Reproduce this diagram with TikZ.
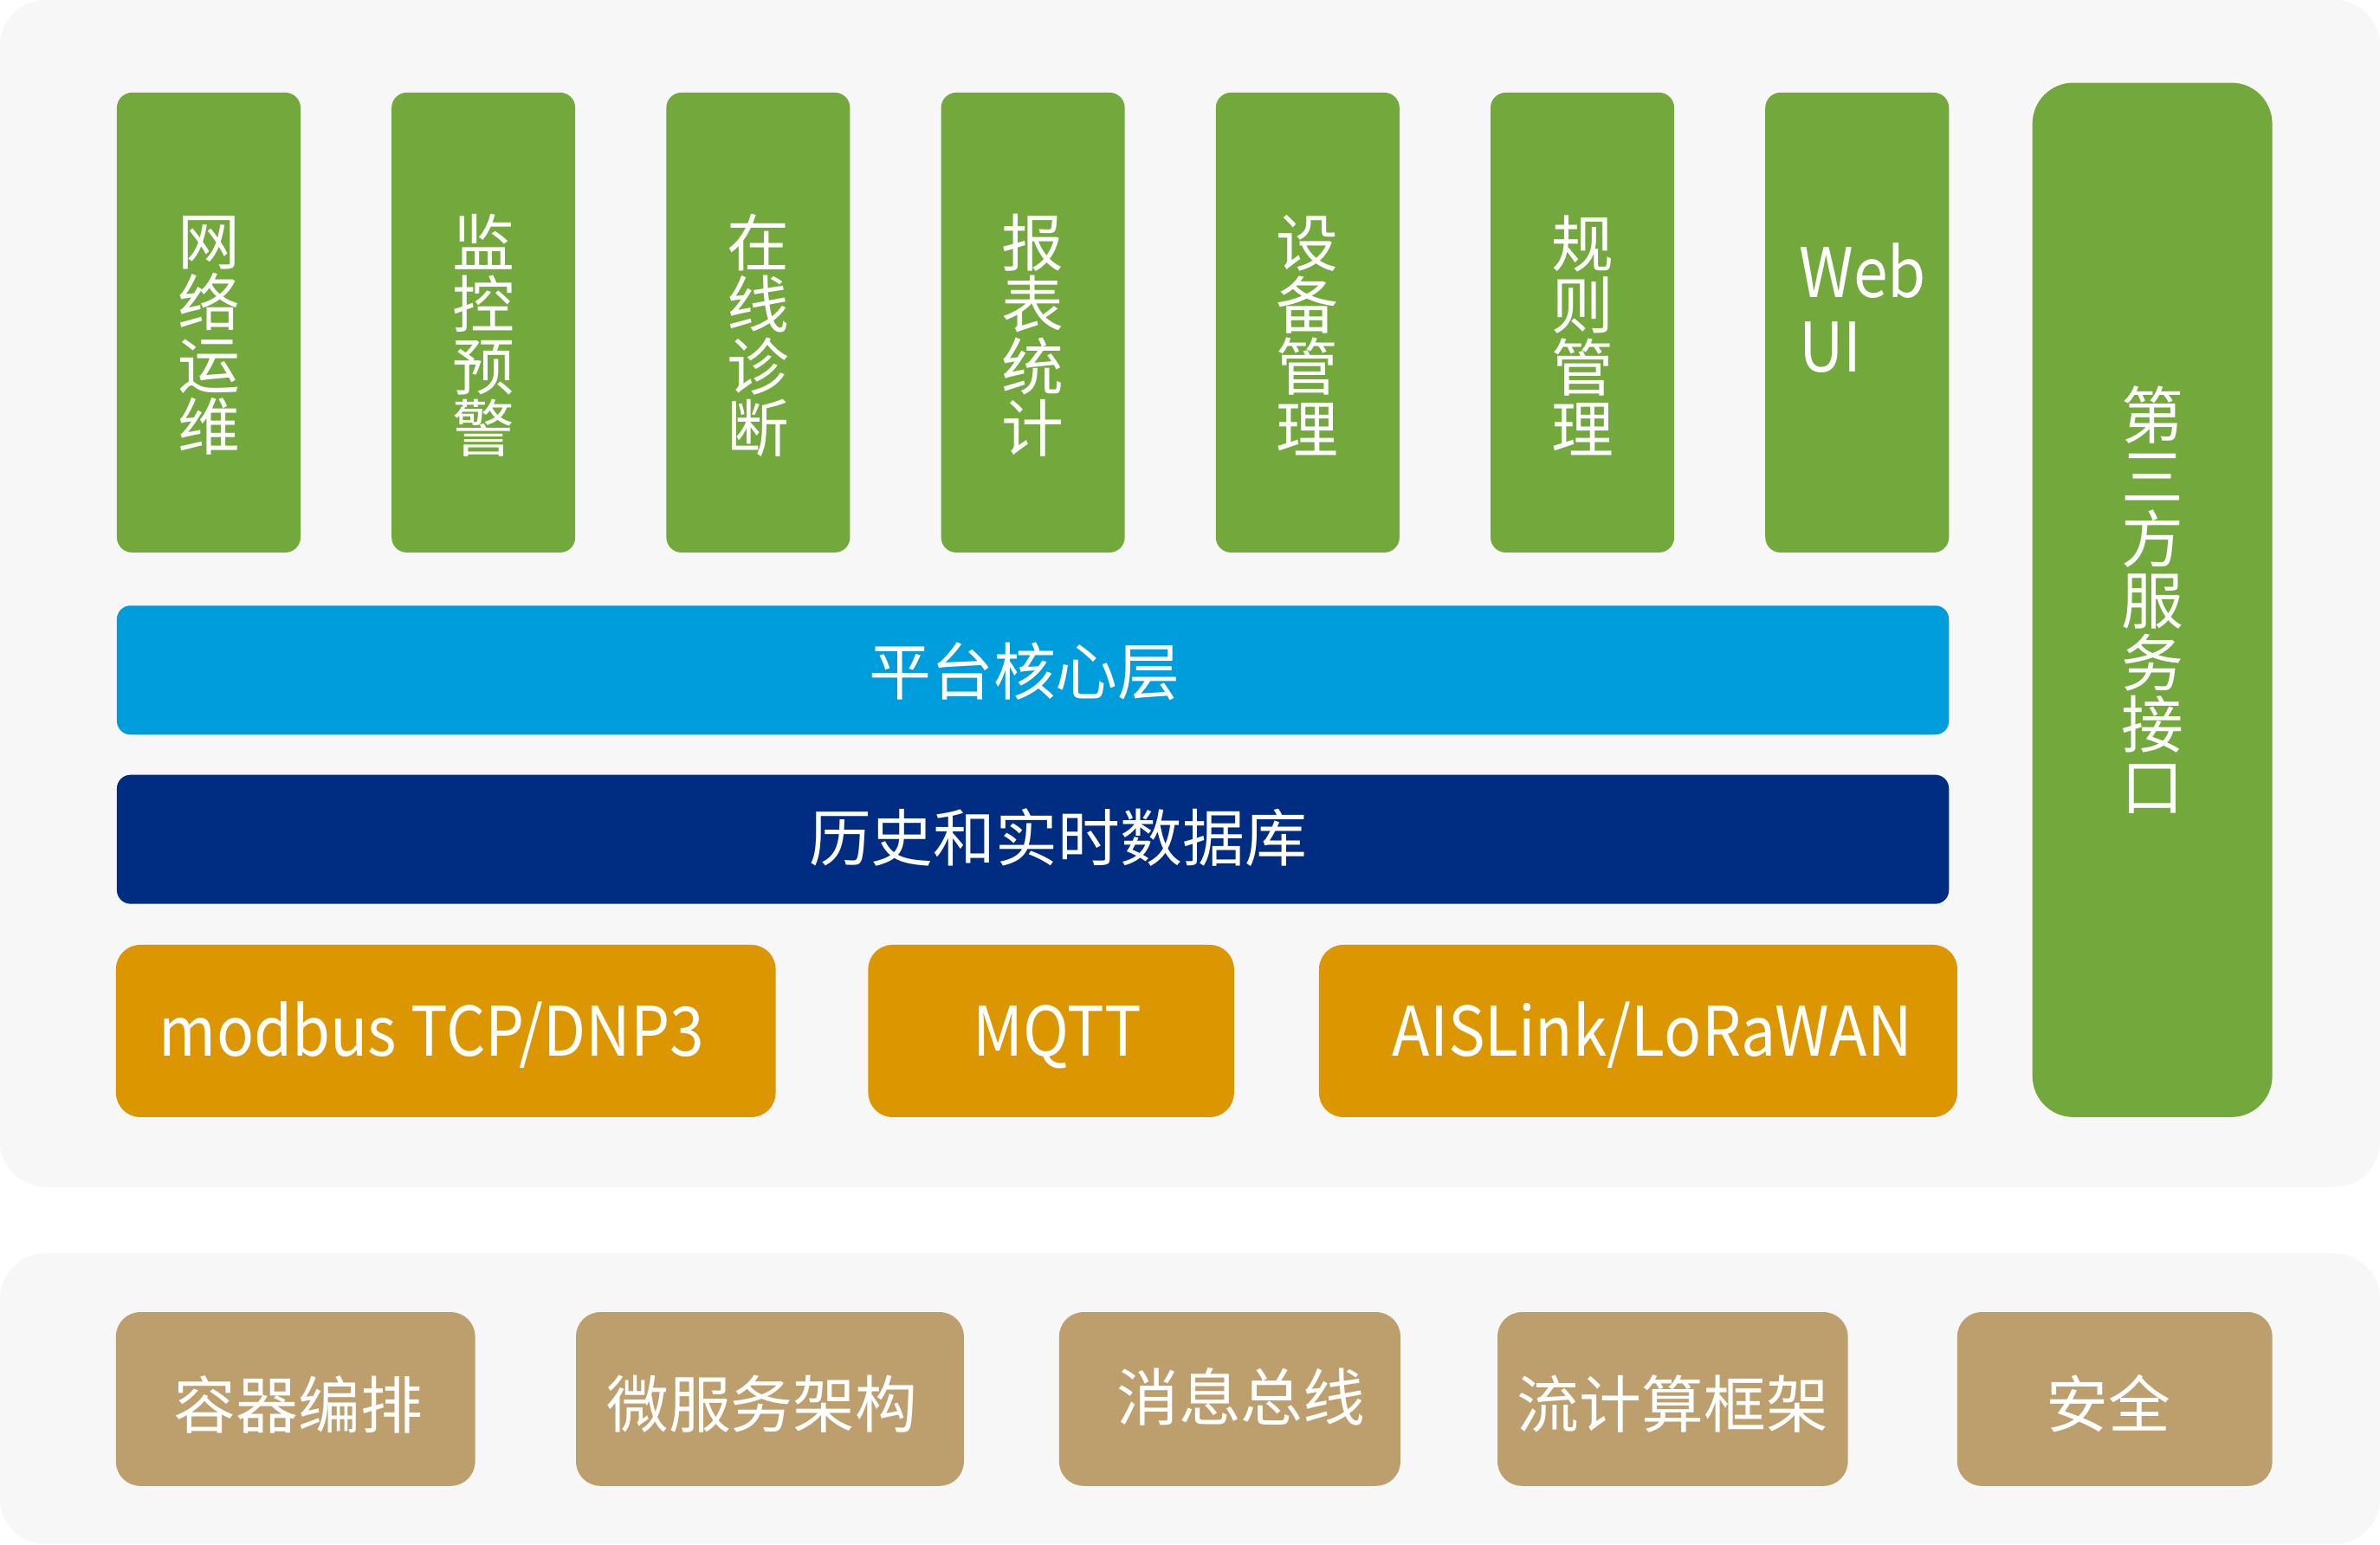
\documentclass[tikz,border=0pt]{standalone}
\usepackage{fontspec}
\setmainfont{Noto Sans CJK SC}
\newfontfamily\latinfont[FakeStretch=0.905]{Noto Sans CJK SC}
\definecolor{panelgray}{HTML}{F7F7F7}
\definecolor{appgreen}{HTML}{72A83C}
\definecolor{coreblue}{HTML}{009DDC}
\definecolor{dbnavy}{HTML}{002D81}
\definecolor{protoorange}{HTML}{DB9600}
\definecolor{infratan}{HTML}{BD9E6D}
\begin{document}
\begin{tikzpicture}[x=0.5pt,y=-0.5pt,
  panel/.style={fill=panelgray,draw=none,rounded corners=15pt},
  box/.style={draw=none,inner sep=0pt,outer sep=0pt},
  appbox/.style={box,fill=appgreen,rounded corners=5pt,minimum width=60.5pt,minimum height=151.5pt},
  bar/.style={box,rounded corners=4.5pt,minimum width=603.5pt,minimum height=42.5pt},
  protobox/.style={box,fill=protoorange,rounded corners=8pt,minimum height=56.75pt},
  infrabox/.style={box,fill=infratan,rounded corners=8pt,minimum height=57.25pt},
  cjk/.style={text=white,inner sep=0pt,font=\fontsize{20.5pt}{20.4pt}\selectfont},
  vcjk/.style={cjk,align=center},
  latin/.style={text=white,inner sep=0pt,font=\latinfont\fontsize{22.5pt}{24.5pt}\selectfont}
]
\useasboundingbox (0,0) rectangle (1568,1017.9);
\fill[white] (0,0) rectangle (1568,1017.9);
% panels
\node[panel,box,minimum width=784pt,minimum height=391pt] (toppanel) at (784,391) {};
\node[panel,box,minimum width=784pt,minimum height=95.75pt] (botpanel) at (784,921.6) {};
% application boxes
\node[appbox] (g1) at (137.5,212.5) {};
\node[appbox] (g2) at (318.5,212.5) {};
\node[appbox] (g3) at (499.5,212.5) {};
\node[appbox] (g4) at (680.5,212.5) {};
\node[appbox] (g5) at (861.5,212.5) {};
\node[appbox] (g6) at (1042.5,212.5) {};
\node[appbox] (g7) at (1223.5,212.5) {};
\node[vcjk] (g1t) at (137.5,221) {网\\络\\运\\维};
\node[vcjk] (g2t) at (318.5,221) {监\\控\\预\\警};
\node[vcjk] (g3t) at (499.5,221) {在\\线\\诊\\断};
\node[vcjk] (g4t) at (680.5,221) {报\\表\\统\\计};
\node[vcjk] (g5t) at (861.5,221) {设\\备\\管\\理};
\node[vcjk] (g6t) at (1042.5,221) {规\\则\\管\\理};
\node[latin,align=left,anchor=west] (g7t) at (1185,203) {Web\\UI};
% third party
\node[box,fill=appgreen,rounded corners=13.5pt,minimum width=79pt,minimum height=340.75pt] (tp) at (1418,395.25) {};
\node[vcjk] (tpt) at (1418,395) {第\\三\\方\\服\\务\\接\\口};
% bars
\node[bar,fill=coreblue] (core) at (680.5,441.5) {};
\node[cjk] (coret) at (675,442.5) {平台核心层};
\node[bar,fill=dbnavy] (db) at (680.5,553) {};
\node[cjk] (dbt) at (697,551.7) {历史和实时数据库};
% protocols
\node[protobox,minimum width=217.3pt] (p1) at (293.7,679.25) {};
\node[protobox,minimum width=120.5pt] (p2) at (692.5,679.25) {};
\node[protobox,minimum width=210.25pt] (p3) at (1079.25,679.25) {};
\node[latin,anchor=base] (p1t) at (284.5,696) {modbus TCP/DNP3};
\node[latin,anchor=base] (p2t) at (696.6,696) {MQTT};
\node[latin,anchor=base] (p3t) at (1088.5,696) {AISLink/LoRaWAN};
% infrastructure
\node[infrabox,minimum width=118.3pt] (i1) at (194.7,921.75) {};
\node[infrabox,minimum width=127.75pt] (i2) at (507.25,921.75) {};
\node[infrabox,minimum width=112.4pt] (i3) at (810.2,921.75) {};
\node[infrabox,minimum width=115.4pt] (i4) at (1102,921.75) {};
\node[infrabox,minimum width=103.75pt] (i5) at (1393.25,921.75) {};
\node[cjk] (i1t) at (196.5,925.5) {容器编排};
\node[cjk] (i2t) at (502,925) {微服务架构};
\node[cjk] (i3t) at (817.6,920.5) {消息总线};
\node[cjk] (i4t) at (1102,925) {流计算框架};
\node[cjk] (i5t) at (1389,925) {安全};
\end{tikzpicture}
\end{document}
